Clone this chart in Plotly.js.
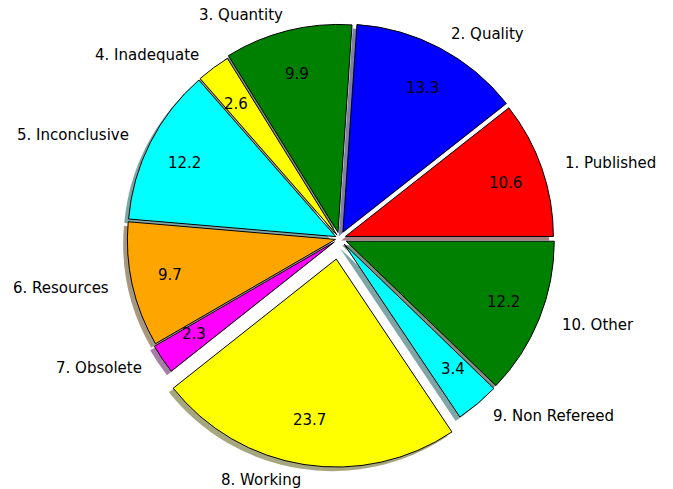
<!DOCTYPE html>
<html>
<head>
<meta charset="utf-8">
<script src="https://cdn.plot.ly/plotly-3.0.1.min.js"></script>
<style>html,body{margin:0;padding:0;background:#fff;}#chart{width:673px;height:489px;}</style>
</head>
<body>
<div id="chart"></div>
<script>
// ---- data ----
var labels = ["1. Published", "2. Quality", "3. Quantity", "4. Inadequate", "5. Inconclusive",
              "6. Resources", "7. Obsolete", "8. Working", "9. Non Refereed", "10. Other"];
var values = [10.6, 13.3, 9.9, 2.6, 12.2, 9.7, 2.3, 23.7, 3.4, 12.2];
var colors = ["#ff0000", "#0000ff", "#008000", "#ffff00", "#00ffff",
              "#ffa500", "#ff00ff", "#ffff00", "#00ffff", "#008000"];
var explode = [0.03, 0.035, 0.03, 0.02, 0.02, 0.02, 0.03, 0.1, 0.035, 0.035];

// ---- geometry (pixels) ----
var W = 673, H = 489;
var cx = 339.5, cy = 238.5;      // pie centre
var R = 208;                     // plotly pie radius
var Rx = 212, Ry = 204;          // text placement radii
var maxPull = Math.max.apply(null, explode);
var half = R * (1 + maxPull);
var total = values.reduce(function (a, b) { return a + b; }, 0);
// plotly's counterclockwise pies put the first slice clockwise of `rotation`;
// shift so that slice 1 starts at 3 o'clock and runs counterclockwise
var rot = 90 - 360 * values[0] / total;

function domainAt(px, py) {
  return {
    x: [(px - half) / W, (px + half) / W],
    y: [(H - py - half) / H, (H - py + half) / H]
  };
}

function shadowColor(hex) {
  var r = parseInt(hex.substr(1, 2), 16), g = parseInt(hex.substr(3, 2), 16), b = parseInt(hex.substr(5, 2), 16);
  return "rgba(" + Math.round(r * 0.3) + "," + Math.round(g * 0.3) + "," + Math.round(b * 0.3) + ",0.5)";
}

var shadowTrace = {
  type: "pie", labels: labels, values: values, sort: false,
  direction: "counterclockwise", rotation: rot, pull: explode,
  marker: { colors: colors.map(shadowColor), line: { width: 0 } },
  textinfo: "none", hoverinfo: "skip", showlegend: false,
  domain: domainAt(cx - 0.02 * Rx, cy + 0.02 * Ry)
};

var mainTrace = {
  type: "pie", labels: labels, values: values, sort: false,
  direction: "counterclockwise", rotation: rot, pull: explode,
  marker: { colors: colors, line: { color: "#000000", width: 1 } },
  textinfo: "none", hoverinfo: "label+value", showlegend: false,
  domain: domainAt(cx, cy)
};

// ---- text annotations computed from the data ----
var annotations = [];
var cum = 0;
var font = { family: "DejaVu Sans", size: 15, color: "#000000" };
var padFix = 3;
for (var i = 0; i < values.length; i++) {
  var mid = (cum + values[i] / 2) / total * 2 * Math.PI;
  cum += values[i];
  var c = Math.cos(mid), s = Math.sin(mid);
  var lx = cx + (1.1 + explode[i]) * Rx * c + (c > 0 ? -padFix : padFix);
  var ly = cy - (1.1 + explode[i]) * Ry * s;
  annotations.push({
    xref: "paper", yref: "paper", x: lx / W, y: (H - ly) / H,
    text: labels[i], showarrow: false, font: font,
    xanchor: c > 0 ? "left" : "right", yanchor: "middle"
  });
  var vx = cx + (0.8 + explode[i]) * Rx * c;
  var vy = cy - (0.8 + explode[i]) * Ry * s;
  annotations.push({
    xref: "paper", yref: "paper", x: vx / W, y: (H - vy) / H,
    text: values[i].toFixed(1), showarrow: false, font: font,
    xanchor: "center", yanchor: "middle"
  });
}

var layout = {
  width: W, height: H,
  margin: { l: 0, r: 0, t: 0, b: 0 },
  paper_bgcolor: "#ffffff", plot_bgcolor: "#ffffff",
  showlegend: false,
  annotations: annotations
};

Plotly.newPlot("chart", [shadowTrace, mainTrace], layout, { displayModeBar: false, staticPlot: true });
</script>
</body>
</html>
